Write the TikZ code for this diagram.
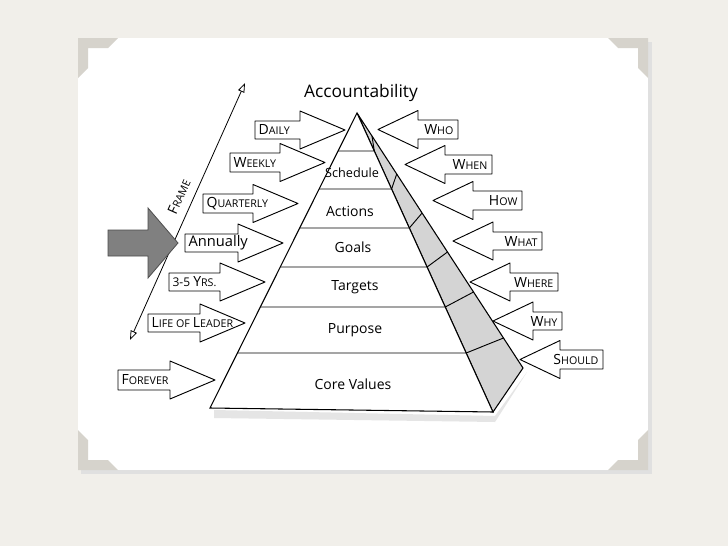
\documentclass[tikz,border=0pt]{standalone}
\usepackage{fontspec}
\setmainfont{Open Sans}
\usetikzlibrary{arrows.meta}
\definecolor{bgc}{HTML}{F1EFEA}
\definecolor{tabc}{HTML}{D6D3CC}
\definecolor{sidec}{HTML}{D4D4D4}
\newcommand{\scx}[2]{{\fontsize{10.5}{10}\selectfont #1}{\fontsize{8}{8}\selectfont #2}}
% right-pointing block arrow: left x, top y, bottom y, tip x, name, text
\newcommand{\rarr}[6]{%
 \pgfmathsetmacro{\mid}{(#2+#3)/2}%
 \pgfmathsetmacro{\hb}{#4-45}%
 \draw[blk] (#1,#2) -- (\hb,#2) -- (\hb,\mid-19) -- (#4,\mid) -- (\hb,\mid+19) -- (\hb,#3) -- (#1,#3) -- cycle;
 \node[lbl,anchor=west] (#5) at (#1+2,\mid) {#6};}
\newcommand{\larr}[6]{%
 \pgfmathsetmacro{\mid}{(#2+#3)/2}%
 \pgfmathsetmacro{\hb}{#4+40}%
 \draw[blk] (#1,#2) -- (\hb,#2) -- (\hb,\mid-19) -- (#4,\mid) -- (\hb,\mid+19) -- (\hb,#3) -- (#1,#3) -- cycle;
 \node[lbl,anchor=east] (#5) at (#1-3,\mid) {#6};}
\begin{document}
\begin{tikzpicture}[x=0.75pt,y=-0.75pt,
 blk/.style={draw=black,fill=white,line width=0.7pt,line join=round},
 lbl/.style={inner sep=1pt,font=\fontsize{9}{9}\selectfont},
 lev/.style={font=\fontsize{10.5}{11}\selectfont}]
\fill[bgc] (0,0) rectangle (728,546);
\useasboundingbox (0,0) rectangle (728,546);
% photo frame
\fill[black!12] (81,42) rectangle (652,474);
\fill[white] (78,38) rectangle (648,470);
\fill[tabc] (78,38) -- (118,38) -- (108,48) -- (88,48) -- (88,68) -- (78,78) -- cycle;
\fill[tabc] (648,38) -- (608,38) -- (618,48) -- (638,48) -- (638,68) -- (648,78) -- cycle;
\fill[tabc] (78,470) -- (118,470) -- (108,460) -- (88,460) -- (88,440) -- (78,430) -- cycle;
\fill[tabc] (648,470) -- (608,470) -- (618,460) -- (638,460) -- (638,440) -- (648,430) -- cycle;
% pyramid
\coordinate (apex) at (357,113);
\coordinate (bl) at (210,408);
\coordinate (br) at (493,412);
\coordinate (so) at (523,368);
\fill[black!10] (214,410) -- (495,416) -- (527,372) -- (495,422) -- (214,418) -- cycle;
\draw[line width=0.8pt,fill=sidec] (apex) -- (so) -- (br) -- cycle;
\draw[line width=0.8pt,fill=white] (apex) -- (bl) -- (br) -- cycle;
\foreach \y in {151,189,228,267,307,353}{
 \pgfmathsetmacro{\xl}{357-0.498*(\y-113)}
 \pgfmathsetmacro{\xr}{357+0.455*(\y-113)}
 \pgfmathsetmacro{\xo}{357+0.651*(\y-15-113)}
 \draw[line width=0.7pt] (\xl,\y) -- (\xr,\y) -- (\xo,\y-15);
}
\node[font=\fontsize{13}{13}\selectfont] (acc) at (361,93) {Accountability};
\node[lev,font=\fontsize{9.5}{10}\selectfont] (sch) at (352,173) {Schedule};
\node[lev] (act) at (350,211) {Actions};
\node[lev] (goa) at (353,247) {Goals};
\node[lev] (tar) at (355,287) {Targets};
\node[lev] (pur) at (355,330) {Purpose};
\node[lev] (cor) at (353,384) {Core Values};
% left arrows
\rarr{255}{121}{139}{345}{d}{\scx{D}{AILY}}
\rarr{230}{153}{172}{325}{w}{\scx{W}{EEKLY}}
\rarr{203}{194}{213}{298}{q}{\scx{Q}{UARTERLY}}
\rarr{185}{234}{252}{283}{an}{\fontsize{11}{11}\selectfont Annually}
\rarr{169}{273}{291}{265}{y}{\fontsize{9}{9}\selectfont 3-5 \scx{Y}{RS.}}
\rarr{148}{314}{332}{245}{l}{\scx{L}{IFE OF} \scx{L}{EADER}}
\rarr{118}{370}{390}{215}{f}{\scx{F}{OREVER}}
% right arrows
\larr{458}{120}{139}{378}{wh}{\scx{W}{HO}}
\larr{492}{155}{174}{405}{wn}{\scx{W}{HEN}}
\larr{522}{191}{210}{433}{hw}{\scx{H}{OW}}
\larr{542}{232}{250}{453}{wt}{\scx{W}{HAT}}
\larr{558}{273}{291}{470}{wr}{\scx{W}{HERE}}
\larr{562}{312}{330}{493}{wy}{\scx{W}{HY}}
\larr{603}{350}{369}{520}{sh}{\scx{S}{HOULD}}
% frame axis
\coordinate (fa) at (130,340);
\coordinate (fb) at (245,83);
\draw[line width=0.6pt,{Triangle[open,length=7pt,width=5pt]}-{Triangle[open,length=7pt,width=5pt]}] (fa) -- (fb);
\node[rotate=66,inner sep=0pt,font=\fontsize{7.5}{8}\selectfont] (fr) at (179,197) {\scx{F}{RAME}};
% big gray arrow
\draw[fill=black!50,draw=black!70,line width=0.6pt] (108,230) -- (148,230) -- (148,208) -- (178,243) -- (148,278) -- (148,256) -- (108,256) -- cycle;
\end{tikzpicture}
\end{document}
